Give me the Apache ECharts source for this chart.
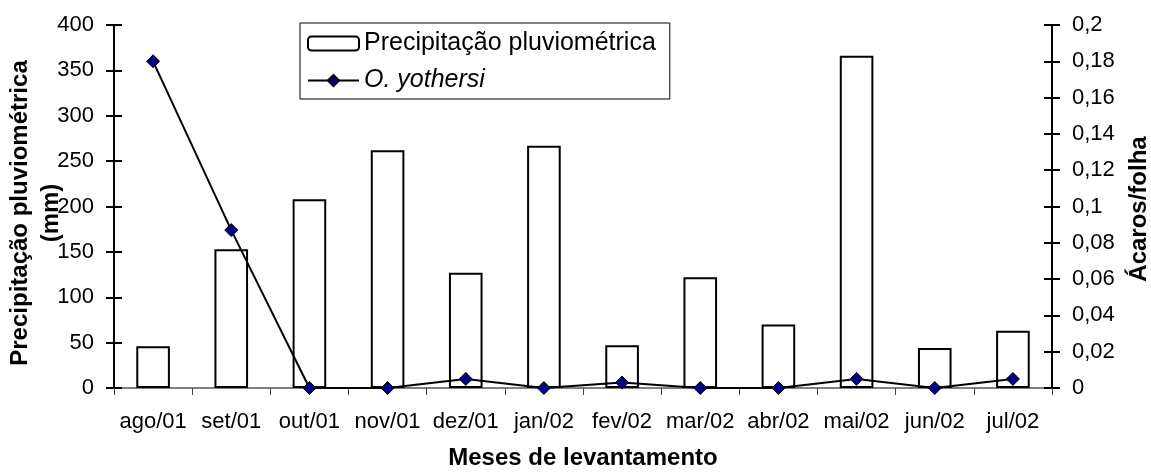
<!DOCTYPE html>
<html>
<head>
<meta charset="utf-8">
<script src="https://cdn.jsdelivr.net/npm/echarts@6/dist/echarts.min.js"></script>
<style>
  html, body { margin: 0; padding: 0; background: #fff; }
  #chart { width: 1151px; height: 474px; }
</style>
</head>
<body>
<div id="chart"></div>
<script>
// Monthly survey: rainfall (mm) and mites per leaf
const months = ['ago/01', 'set/01', 'out/01', 'nov/01', 'dez/01', 'jan/02',
                'fev/02', 'mar/02', 'abr/02', 'mai/02', 'jun/02', 'jul/02'];
const rainfall = [46, 153, 208, 262, 127, 267, 47, 122, 70, 366, 44, 63];
const mitesPerLeaf = [0.18, 0.087, 0, 0, 0.005, 0, 0.003, 0, 0, 0.005, 0, 0.005];

const rainTicks = { min: 0, max: 400, interval: 50 };
const miteTicks = { min: 0, max: 0.2, interval: 0.02 };

const rainName = 'Precipitação pluviométrica';
const miteName = 'O. yothersi';
const leftTitle = 'Precipitação pluviométrica\n(mm)';
const rightTitle = 'Ácaros/folha';
const bottomTitle = 'Meses de levantamento';

const FONT = '"Liberation Sans", Arial, sans-serif';

const chart = echarts.init(document.getElementById('chart'), null, { renderer: 'canvas' });

const commaFmt = v => String(+(+v).toFixed(4)).replace('.', ',');

// y axis with ticks on the inner side only (pairs with the outer-tick axis to give crossing ticks)
function innerTickAxis(pos, t) {
  return {
    type: 'value', position: pos, min: t.min, max: t.max, interval: t.interval,
    axisLine: { show: false },
    axisTick: { show: true, inside: true, length: 8, lineStyle: { color: '#000', width: 2 } },
    axisLabel: { show: false },
    splitLine: { show: false }
  };
}

chart.setOption({
  animation: false,
  backgroundColor: '#fff',
  textStyle: { fontFamily: FONT },
  grid: { left: 114, right: 99, top: 25, bottom: 86, containLabel: false },
  legend: {
    orient: 'vertical',
    left: 300,
    top: 23,
    itemWidth: 51,
    itemHeight: 14,
    itemGap: 12,
    padding: [8, 14, 6, 7],
    borderColor: '#000',
    borderWidth: 1,
    backgroundColor: '#fff',
    textStyle: { fontSize: 25, color: '#000', fontFamily: FONT },
    data: [
      { name: rainName },
      { name: miteName, textStyle: { fontStyle: 'italic' } }
    ]
  },
  xAxis: {
    type: 'category',
    data: months,
    axisLine: { lineStyle: { color: '#808080', width: 2 } },
    axisTick: { show: true, length: 7, lineStyle: { color: '#404040', width: 1 } },
    axisLabel: { fontSize: 22, color: '#000', margin: 23, interval: 0 },
    splitLine: { show: false }
  },
  yAxis: [
    {
      type: 'value', position: 'left',
      min: rainTicks.min, max: rainTicks.max, interval: rainTicks.interval,
      axisLine: { show: true, lineStyle: { color: '#000', width: 2 } },
      axisTick: { show: true, length: 8, lineStyle: { color: '#000', width: 2 } },
      axisLabel: { fontSize: 22, color: '#000', margin: 20 },
      splitLine: { show: false }
    },
    {
      type: 'value', position: 'right',
      min: miteTicks.min, max: miteTicks.max, interval: miteTicks.interval,
      axisLine: { show: true, lineStyle: { color: '#000', width: 2 } },
      axisTick: { show: true, length: 8, lineStyle: { color: '#000', width: 2 } },
      axisLabel: { fontSize: 22, color: '#000', margin: 20, formatter: commaFmt },
      splitLine: { show: false }
    },
    innerTickAxis('left', rainTicks),
    innerTickAxis('right', miteTicks)
  ],
  series: [
    {
      name: rainName,
      type: 'bar',
      yAxisIndex: 0,
      data: rainfall,
      barWidth: '43%',
      itemStyle: { color: '#fff', borderColor: '#000', borderWidth: 2 },
      z: 2
    },
    {
      name: miteName,
      type: 'line',
      yAxisIndex: 1,
      data: mitesPerLeaf,
      symbol: 'diamond',
      symbolSize: 13,
      lineStyle: { color: '#000', width: 2 },
      itemStyle: { color: '#000080', borderColor: '#000', borderWidth: 1 },
      z: 5
    }
  ],
  graphic: [
    {
      type: 'text', x: 36, y: 213, rotation: Math.PI / 2,
      style: {
        text: leftTitle, fill: '#000', fontSize: 24, fontWeight: 'bold', fontFamily: FONT,
        align: 'center', verticalAlign: 'middle', lineHeight: 31
      }
    },
    {
      type: 'text', x: 1139, y: 209, rotation: Math.PI / 2,
      style: {
        text: rightTitle, fill: '#000', fontSize: 24, fontWeight: 'bold', fontFamily: FONT,
        align: 'center', verticalAlign: 'middle'
      }
    },
    {
      type: 'text', x: 583, y: 458,
      style: {
        text: bottomTitle, fill: '#000', fontSize: 24, fontWeight: 'bold', fontFamily: FONT,
        align: 'center', verticalAlign: 'middle'
      }
    }
  ]
});
</script>
</body>
</html>
